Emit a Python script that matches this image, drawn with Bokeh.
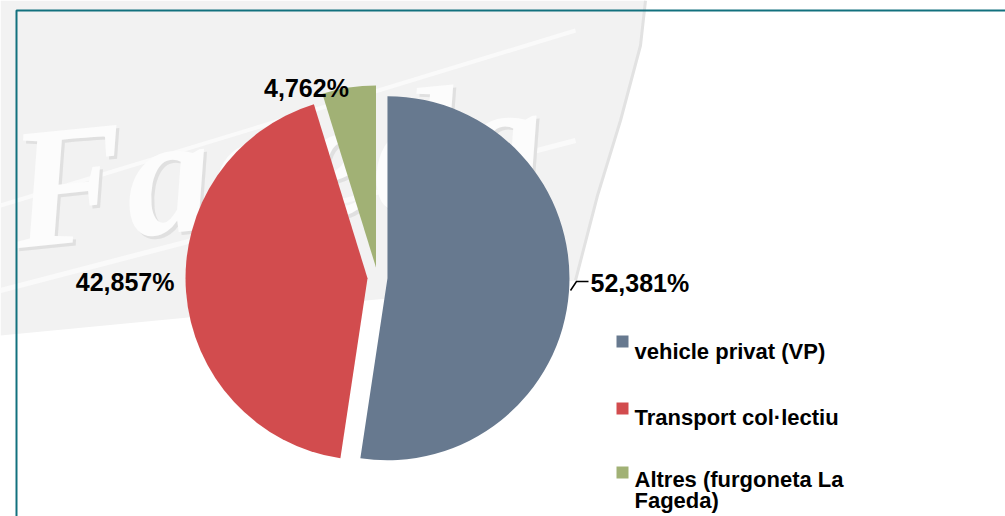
import math
import textwrap
from bokeh.plotting import figure
from bokeh.models import Range1d, ColumnDataSource
from bokeh.core.properties import value
from bokeh.embed import file_html
from bokeh.resources import INLINE

# ---- data ----
categories = ["vehicle privat (VP)", "Transport col·lectiu", "Altres (furgoneta La Fageda)"]
percents = [52.381, 42.857, 4.762]
colors = ["#67798F", "#D24C4E", "#A1B175"]

# ---- layout (screen pixels, y measured from top) ----
W, H = 1005, 516
CX, CY = 377, 277      # pie centre
R = 182                # pie radius
EXPLODE = 10           # explosion distance
label_anchor = [(590, 282, "left"), (174, 281, "right"), (306, 87, "center")]
legend_sq_x = 622
legend_sq_y = [341, 408, 472]
legend_txt_x = 634
legend_baseline = [351, 417, 479]
legend_line_h = 21
FONT = "Liberation Sans"


def Y(v):
    return H - v


p = figure(width=W, height=H, x_range=Range1d(0, W), y_range=Range1d(0, H),
           output_backend="svg", toolbar_location=None, min_border=0,
           x_axis_location=None, y_axis_location=None)
p.grid.visible = False
p.outline_line_color = None
p.background_fill_color = "white"
p.border_fill_color = "white"

# ---- faint watermark banner (background image approximation) ----
banner = [(0, 0), (645, 0), (640, 45), (620, 120), (597, 195), (575, 280), (0, 335)]
p.patch([b[0] for b in banner], [Y(b[1]) for b in banner], fill_color="#f2f2f2", line_color=None)
p.line([0, 575], [Y(205), Y(30)], line_color="#fafafa", line_width=4)
p.line([0, 575], [Y(290), Y(140)], line_color="#fafafa", line_width=5)
p.line([645, 640, 620, 597, 575], [Y(0), Y(45), Y(120), Y(195), Y(280)], line_color="#e2e2e2", line_width=3)
p.text(x=[13], y=[Y(193)], text=["Fageda"], angle=0.1, text_font=value("Liberation Serif"),
       text_font_style="bold italic", text_font_size="172px", text_color="#e0e0e0",
       text_baseline="alphabetic")
p.text(x=[10], y=[Y(190)], text=["Fageda"], angle=0.1, text_font=value("Liberation Serif"),
       text_font_style="bold italic", text_font_size="172px", text_color="#fcfcfc",
       text_baseline="alphabetic")

# ---- pie ----
total = sum(percents)
starts, ends, xs, ys = [], [], [], []
cum = 0.0
for v in percents:
    a0 = math.pi / 2 - 2 * math.pi * cum / total
    a1 = math.pi / 2 - 2 * math.pi * (cum + v) / total
    mid = (a0 + a1) / 2
    starts.append(a0)
    ends.append(a1)
    xs.append(CX + EXPLODE * math.cos(mid))
    ys.append(Y(CY) + EXPLODE * math.sin(mid))
    cum += v

src = ColumnDataSource(dict(x=xs, y=ys, start=starts, end=ends, color=colors))
p.wedge(x="x", y="y", radius=R, start_angle="start", end_angle="end", direction="clock",
        fill_color="color", line_color=None, source=src)

# ---- data labels ----
lab_text = [("%.3f%%" % v).replace(".", ",") for v in percents]
for (lx, ly, al), t in zip(label_anchor, lab_text):
    p.text(x=[lx], y=[Y(ly)], text=[t], text_font=value(FONT), text_font_style="bold",
           text_font_size="25px", text_color="black", text_align=al,
           text_baseline="alphabetic")

# leader line for first label
p.line([570, 576, 588], [Y(290), Y(281), Y(281)], line_color="black", line_width=1.5)

# ---- legend ----
for cat, col, sy, by in zip(categories, colors, legend_sq_y, legend_baseline):
    p.scatter(x=[legend_sq_x], y=[Y(sy)], marker="square", size=12, fill_color=col, line_color=None)
    for i, line in enumerate(textwrap.wrap(cat, 20)):
        p.text(x=[legend_txt_x], y=[Y(by + i * legend_line_h)], text=[line], text_font=value(FONT),
               text_font_style="bold", text_font_size="22px", text_color="black",
               text_baseline="alphabetic")

# ---- frame border ----
p.line([16, 16, W], [Y(H), Y(10), Y(10)], line_color="#12717E", line_width=2)

open("out.html", "w").write(file_html(p, INLINE))
